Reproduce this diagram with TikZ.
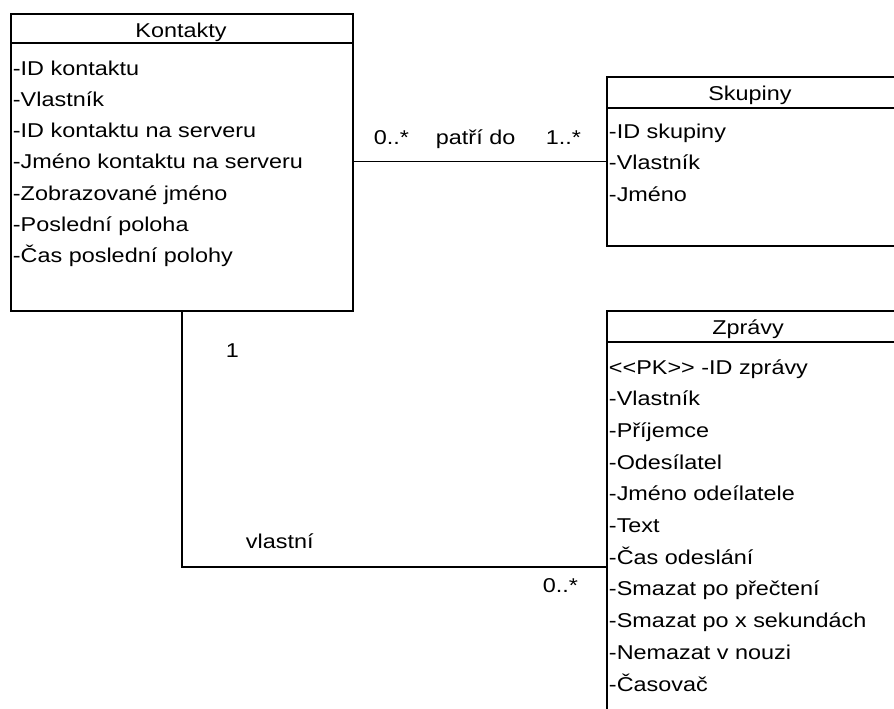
\documentclass[tikz,border=0pt]{standalone}
\usepackage{fontspec}
\setmainfont[FakeStretch=1.17]{Liberation Sans}
\begin{document}
\begin{tikzpicture}[x=1pt,y=-1pt,line width=1.9pt,
  cls/.style={draw, rectangle, inner sep=0pt, anchor=north west},
  txt/.style={inner sep=0pt, font=\fontsize{20}{24}\selectfont},
  attr/.style={txt, anchor=base west},
  ttl/.style={txt, anchor=base},
  lbl/.style={txt, anchor=base west}]
\useasboundingbox (0,0) rectangle (894,709);
\clip (0,0) rectangle (894,709);
% Kontakty
\node[cls, minimum width=342pt, minimum height=297pt] (kont) at (10,13) {};
\draw ([yshift=-30pt]kont.north west) -- ([yshift=-30pt]kont.north east);
\node[ttl] (kt) at (181,38) {Kontakty};
\node[attr] (k1) at (12,75) {-ID kontaktu};
\node[attr] (k2) at (12,106.3) {-Vlastník};
\node[attr] (k3) at (12,137.6) {-ID kontaktu na serveru};
\node[attr] (k4) at (12,168.9) {-Jméno kontaktu na serveru};
\node[attr] (k5) at (12,200.2) {-Zobrazované jméno};
\node[attr] (k6) at (12,231.5) {-Poslední poloha};
\node[attr] (k7) at (12,262.8) {-Čas poslední polohy};
% Skupiny
\node[cls, minimum width=292pt, minimum height=169pt] (skup) at (606,76) {};
\draw ([yshift=-32pt]skup.north west) -- ([yshift=-32pt]skup.north east);
\node[ttl] (st) at (750,100) {Skupiny};
\node[attr] (s1) at (608,138) {-ID skupiny};
\node[attr] (s2) at (608,169.5) {-Vlastník};
\node[attr] (s3) at (608,201) {-Jméno};
% Zpravy
\node[cls, minimum width=292pt, minimum height=512pt] (zpr) at (606,310) {};
\draw ([yshift=-32pt]zpr.north west) -- ([yshift=-32pt]zpr.north east);
\node[ttl] (zt) at (748,334) {Zprávy};
\node[attr] (z1) at (608,374) {<\kern0pt<PK>\kern0pt> -ID zprávy};
\node[attr] (z2) at (608,405.7) {-Vlastník};
\node[attr] (z3) at (608,437.4) {-Příjemce};
\node[attr] (z4) at (608,469.1) {-Odesílatel};
\node[attr] (z5) at (608,500.8) {-Jméno odeílatele};
\node[attr] (z6) at (608,532.5) {-Text};
\node[attr] (z7) at (608,564.2) {-Čas odeslání};
\node[attr] (z8) at (608,595.9) {-Smazat po přečtení};
\node[attr] (z9) at (608,627.6) {-Smazat po x sekundách};
\node[attr] (z10) at (608,659.3) {-Nemazat v nouzi};
\node[attr] (z11) at (608,691) {-Časovač};
% connectors
\draw (skup.west -| kont.east) -- (skup.west);
\draw (kont.south) |- (zpr.west);
% labels
\node[lbl] (m1) at (373,144) {0..*};
\node[lbl] (r1) at (435,144) {patří do};
\node[lbl] (m2) at (545,144) {1..*};
\node[lbl] (m3) at (225,357) {1};
\node[lbl] (r2) at (245,548) {vlastní};
\node[lbl] (m4) at (542,592) {0..*};
\end{tikzpicture}
\end{document}
